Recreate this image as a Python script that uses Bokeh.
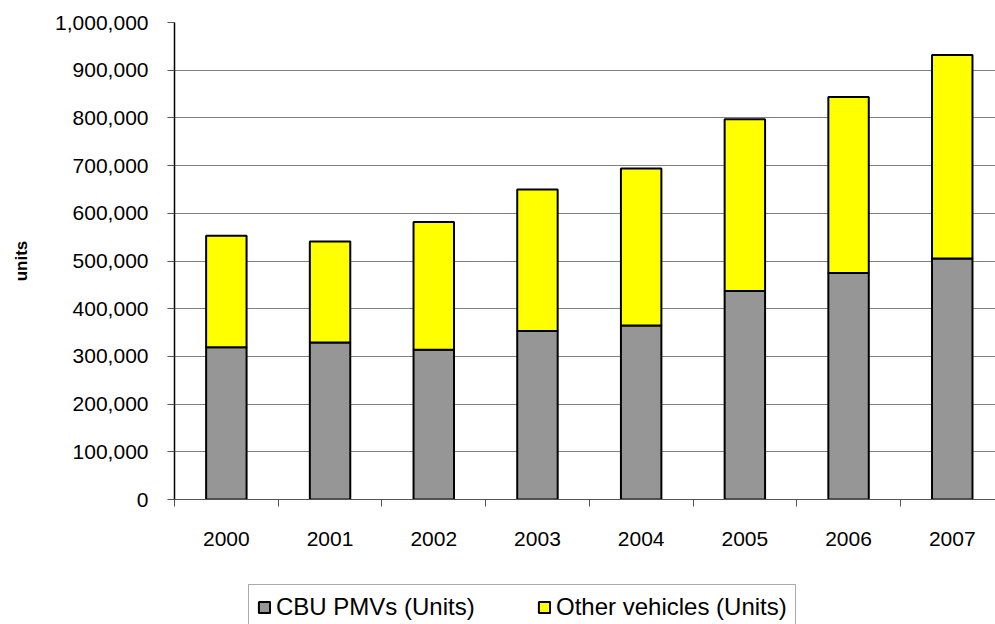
from bokeh.plotting import figure
from bokeh.layouts import column
from bokeh.models import (ColumnDataSource, Range1d, FixedTicker, SingleIntervalTicker,
                          NumeralTickFormatter)
from bokeh.embed import file_html
from bokeh.resources import INLINE

# ---- data ----
years = ["2000", "2001", "2002", "2003", "2004", "2005", "2006", "2007"]
cbu_pmvs = [319000, 329000, 314000, 353000, 365000, 437000, 475000, 505000]
other_vehicles = [234000, 212000, 268000, 297000, 329000, 360000, 369000, 427000]
series_names = ["CBU PMVs (Units)", "Other vehicles (Units)"]
series_colors = ["#969696", "#FFFF00"]
y_label = "units"

xpos = list(range(len(years)))
source = ColumnDataSource(dict(x=xpos, cbu=cbu_pmvs, other=other_vehicles))

FONT = "Liberation Sans"

p = figure(width=995, height=560, output_backend="svg", toolbar_location=None,
           x_range=Range1d(-0.5, 7.417), y_range=Range1d(0, 1000000),
           min_border_left=174, min_border_right=0, min_border_top=22,
           min_border_bottom=61)
p.outline_line_color = None
p.background_fill_color = "white"
p.border_fill_color = "white"

p.vbar_stack(["cbu", "other"], x="x", width=0.39, source=source,
             fill_color=series_colors, line_color="black", line_width=2)

# x axis: labels at centers, tick marks at category boundaries
p.xaxis.ticker = FixedTicker(ticks=xpos, minor_ticks=[i - 0.5 for i in xpos] + [len(xpos) - 0.5])
p.xaxis.major_label_overrides = {i: y for i, y in zip(xpos, years)}
p.xaxis.major_tick_out = 0
p.xaxis.major_tick_in = 0
p.xaxis.minor_tick_out = 7
p.xaxis.minor_tick_in = 0
p.xaxis.minor_tick_line_color = "#555555"
p.xaxis.axis_line_color = "#555555"
p.xaxis.axis_line_width = 1
p.xaxis.major_label_standoff = 25
p.xaxis.major_label_text_font = FONT
p.xaxis.major_label_text_font_size = "21px"
p.xaxis.major_label_text_color = "black"
p.xgrid.grid_line_color = None

# y axis
p.yaxis.ticker = SingleIntervalTicker(interval=100000, num_minor_ticks=0)
p.yaxis.formatter = NumeralTickFormatter(format="0,0")
p.yaxis.major_tick_out = 7
p.yaxis.major_tick_in = 0
p.yaxis.minor_tick_out = 0
p.yaxis.minor_tick_in = 0
p.yaxis.major_tick_line_color = "#555555"
p.yaxis.axis_line_color = "black"
p.yaxis.axis_line_width = 1.5
p.yaxis.major_label_standoff = 19
p.yaxis.major_label_text_font = FONT
p.yaxis.major_label_text_font_size = "21px"
p.yaxis.major_label_text_color = "black"
p.yaxis.axis_label = y_label
p.yaxis.axis_label_text_font = FONT
p.yaxis.axis_label_text_font_size = "17px"
p.yaxis.axis_label_text_font_style = "bold"
p.yaxis.axis_label_text_color = "black"
p.yaxis.axis_label_standoff = 21
p.ygrid.grid_line_color = "#808080"
p.ygrid.grid_line_width = 1

# ---- legend strip below the chart (same series, hidden renderers) ----
p2 = figure(width=995, height=64, output_backend="svg", toolbar_location=None,
            x_range=p.x_range, y_range=p.y_range,
            x_axis_location=None, y_axis_location=None,
            min_border_left=174, min_border_right=0, min_border_top=0, min_border_bottom=0)
p2.outline_line_color = None
p2.xgrid.grid_line_color = None
p2.ygrid.grid_line_color = None
p2.background_fill_color = "white"
p2.border_fill_color = "white"
legend_renderers = p2.vbar_stack(["cbu", "other"], x="x", width=0.39, source=source,
                                 fill_color=series_colors, line_color="black", line_width=2,
                                 legend_label=series_names)
for r in legend_renderers:
    r.visible = False

lg = p2.legend[0]
lg.orientation = "horizontal"
lg.location = (74, -6)
lg.margin = 0
lg.click_policy = "none"
lg.inactive_fill_alpha = 0
lg.label_text_font = FONT
lg.label_text_font_size = "24px"
lg.label_text_color = "black"
lg.glyph_width = 14
lg.glyph_height = 14
lg.label_standoff = 5
lg.label_width = 231
lg.spacing = 30
lg.padding = 8
lg.border_line_color = "#555555"
lg.border_line_width = 1
lg.background_fill_color = "white"
lg.background_fill_alpha = 1

layout = column(p, p2, spacing=0)
open("out.html", "w").write(file_html(layout, INLINE))
